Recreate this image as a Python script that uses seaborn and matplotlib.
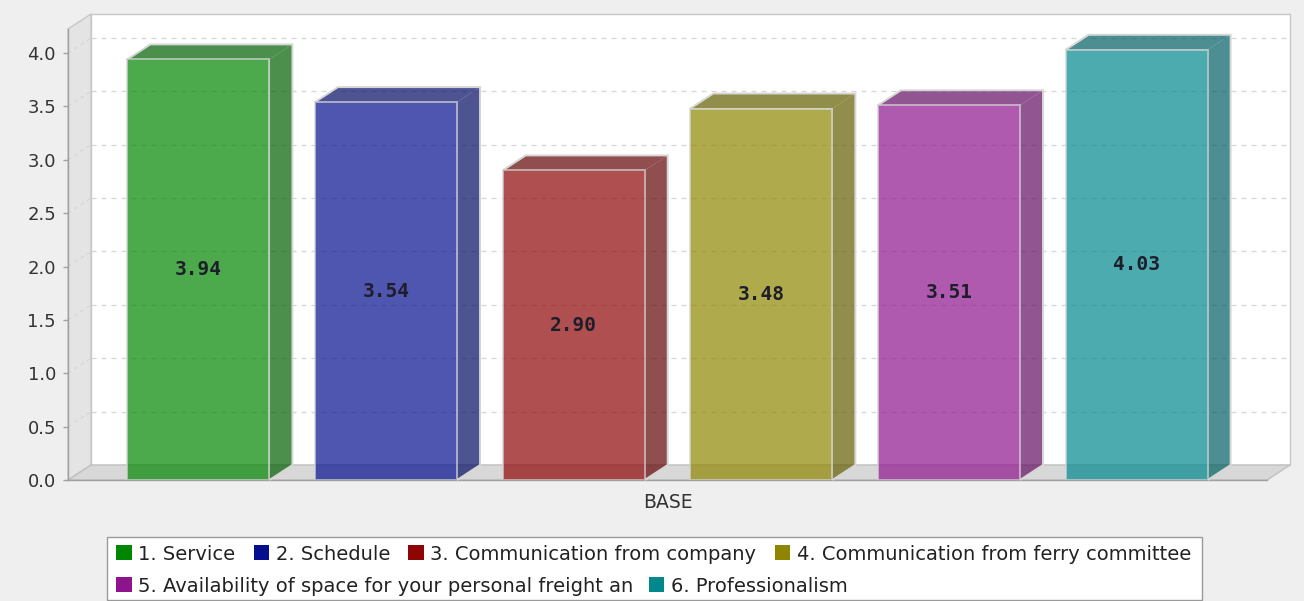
import numpy as np
import pandas as pd
import matplotlib
matplotlib.use("Agg")
import matplotlib.pyplot as plt
from matplotlib.patches import Polygon, Patch, Rectangle
import seaborn as sns

# ---- data -------------------------------------------------------------
items = [
    "1. Service",
    "2. Schedule",
    "3. Communication from company",
    "4. Communication from ferry committee",
    "5. Availability of space for your personal freight an",
    "6. Professionalism",
]
scores = [3.94, 3.54, 2.90, 3.48, 3.51, 4.03]
group = ["BASE"] * len(items)
base_colors = ["#008600", "#050F8E", "#8E0505", "#8E8600", "#8E148E", "#00888C"]
y_ticks = [0.0, 0.5, 1.0, 1.5, 2.0, 2.5, 3.0, 3.5, 4.0]

df = pd.DataFrame({"group": group, "item": items, "score": scores})

# ---- figure geometry (pixels) -------------------------------------------
W, H, DPI = 1304, 601, 100
sns.set_theme(style="white")
plt.rcParams["font.family"] = ["DejaVu Sans"]

fig = plt.figure(figsize=(W / DPI, H / DPI), dpi=DPI, facecolor="#EFEFEF")
ax_left, ax_right, ax_bottom, ax_top = 68, 1267, 480, 29
ax = fig.add_axes([ax_left / W, 1 - ax_bottom / H,
                   (ax_right - ax_left) / W, (ax_bottom - ax_top) / H])
ax.set_facecolor("none")

px_per_unit = 106.75
ymax = (ax_bottom - ax_top) / px_per_unit
ax.set_xlim(-0.5, 0.5)
ax.set_ylim(0, ymax)

# 3D depth offset in data units
depth_px_x, depth_px_y = 23, 15
ddx = depth_px_x / (ax_right - ax_left)
ddy = depth_px_y / px_per_unit

# ---- walls and floor ---------------------------------------------------
back = Polygon([(-0.5 + ddx, ddy), (0.5 + ddx, ddy), (0.5 + ddx, ymax + ddy),
                (-0.5 + ddx, ymax + ddy)], closed=True, facecolor="white",
               edgecolor="#C8C8C8", lw=1.0, clip_on=False, zorder=0)
left_wall = Polygon([(-0.5, 0), (-0.5 + ddx, ddy), (-0.5 + ddx, ymax + ddy),
                     (-0.5, ymax)], closed=True, facecolor="#E4E4E4",
                    edgecolor="#C8C8C8", lw=1.0, clip_on=False, zorder=0)
floor = Polygon([(-0.5, 0), (0.5, 0), (0.5 + ddx, ddy), (-0.5 + ddx, ddy)],
                closed=True, facecolor="#D8D8D8", edgecolor="#C0C0C0",
                lw=1.0, clip_on=False, zorder=0.5)
for p in (back, left_wall, floor):
    ax.add_patch(p)

# dashed gridlines on the back wall and across the left wall
for v in y_ticks[1:]:
    ax.plot([-0.5 + ddx, 0.5 + ddx], [v + ddy, v + ddy], ls=(0, (4, 4)),
            color="#D6D6D6", lw=0.9, clip_on=False, zorder=0.6)
    ax.plot([-0.5, -0.5 + ddx], [v, v + ddy], ls=(0, (3, 3)),
            color="#D6D6D6", lw=0.9, clip_on=False, zorder=0.6)

# ---- bars --------------------------------------------------------------
sns.barplot(data=df, x="group", y="score", hue="item", hue_order=items,
            palette=base_colors, saturation=1, width=0.939, gap=0.243,
            alpha=0.7, edgecolor="#D6D6D6", linewidth=1.4, legend=False,
            zorder=3, ax=ax)

bars = sorted([p for p in ax.patches if isinstance(p, Rectangle)
               and p.get_height() > 0], key=lambda p: p.get_x())
for bar, col, val in zip(bars, base_colors, scores):
    x0, w, h = bar.get_x(), bar.get_width(), bar.get_height()
    rgb = np.array(matplotlib.colors.to_rgb(col)) * 0.7
    side = Polygon([(x0 + w, 0), (x0 + w + ddx, ddy), (x0 + w + ddx, h + ddy),
                    (x0 + w, h)], closed=True, facecolor=rgb, alpha=0.7,
                   edgecolor="none", clip_on=False, zorder=2)
    top = Polygon([(x0, h), (x0 + w, h), (x0 + w + ddx, h + ddy),
                   (x0 + ddx, h + ddy)], closed=True, facecolor=rgb, alpha=0.7,
                  edgecolor="none", clip_on=False, zorder=2)
    outline = Polygon([(x0, h), (x0 + ddx, h + ddy), (x0 + w + ddx, h + ddy),
                       (x0 + w + ddx, ddy), (x0 + w, 0)], closed=False,
                      fill=False, edgecolor="#D6D6D6", lw=1.4, clip_on=False,
                      zorder=2.5)
    for p in (side, top, outline):
        ax.add_patch(p)
    ax.text(x0 + w / 2, h / 2, f"{val:.2f}", ha="center", va="center",
            family="DejaVu Sans Mono", weight="bold", fontsize=14,
            color="#1E1E2A", zorder=5)

# ---- axes styling --------------------------------------------------------
ax.set_yticks(y_ticks)
ax.set_yticklabels([f"{t:.1f}" for t in y_ticks])
ax.set_xlabel("")
ax.set_ylabel("")
for s in ("top", "right"):
    ax.spines[s].set_visible(False)
for s in ("left", "bottom"):
    ax.spines[s].set_color("#A0A0A0")
    ax.spines[s].set_linewidth(1.0)
    ax.spines[s].set_zorder(1)
ax.tick_params(axis="y", length=3.6, width=1, color="#A0A0A0", pad=5,
               labelsize=13, labelcolor="#333333", left=True)
ax.tick_params(axis="x", length=0, pad=9, labelsize=13.5, labelcolor="#333333")

# ---- legend (two flowing rows inside one frame) ---------------------------
handles = [Patch(facecolor=c, edgecolor="none") for c in base_colors]
leg_kw = dict(frameon=False, fontsize=14, handlelength=0.8, handleheight=0.8,
              handletextpad=0.33, borderpad=0, borderaxespad=0,
              loc="center left", labelcolor="#222222")
frame = Rectangle((107 / W, 1 - 600 / H), (1202 - 107) / W, (600 - 537) / H,
                  transform=fig.transFigure, facecolor="white",
                  edgecolor="#9A9A9A", lw=1.0, zorder=0)
fig.patches.append(frame)
leg1 = fig.legend(handles[:4], items[:4], ncol=4, columnspacing=0.95,
                  bbox_to_anchor=(116 / W, 1 - 554 / H), **leg_kw)
leg2 = fig.legend(handles[4:], items[4:], ncol=2, columnspacing=0.8,
                  bbox_to_anchor=(116 / W, 1 - 586 / H), **leg_kw)

fig.savefig("out.png", dpi=DPI, facecolor=fig.get_facecolor())
